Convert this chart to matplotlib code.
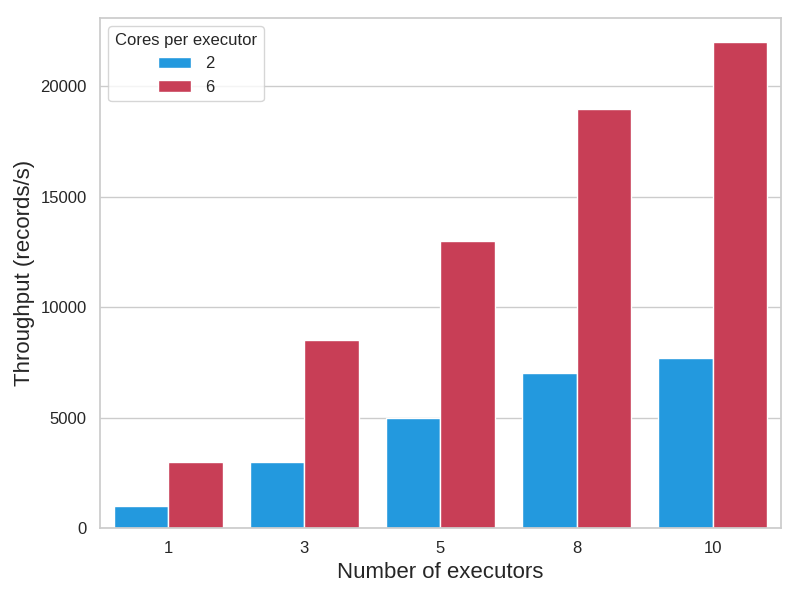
import matplotlib
matplotlib.use("Agg")
import matplotlib.pyplot as plt
import pandas as pd
import seaborn as sns

executors = [1, 3, 5, 8, 10]
throughput_2_cores = [1000, 3000, 5000, 7000, 7700]
throughput_6_cores = [3000, 8500, 13000, 19000, 22000]
core_labels = ["2", "6"]

df = pd.DataFrame({
    "executors": executors * 2,
    "cores": [core_labels[0]] * len(executors) + [core_labels[1]] * len(executors),
    "throughput": throughput_2_cores + throughput_6_cores,
})

sns.set_theme(style="whitegrid")
plt.rcParams["font.family"] = ["Liberation Sans", "DejaVu Sans"]

fig, ax = plt.subplots(figsize=(8, 6), dpi=100)
sns.barplot(data=df, x="executors", y="throughput", hue="cores",
            palette=["#2399de", "#c83e56"], saturation=1, ax=ax)

ax.set_xlabel("Number of executors", fontsize=16)
ax.set_ylabel("Throughput (records/s)", fontsize=16)
ax.tick_params(labelsize=12)
ax.legend(title="Cores per executor", loc="upper left", fontsize=12, title_fontsize=12)

fig.subplots_adjust(left=0.125, right=0.976, top=0.97, bottom=0.12)
plt.savefig("out.png")
